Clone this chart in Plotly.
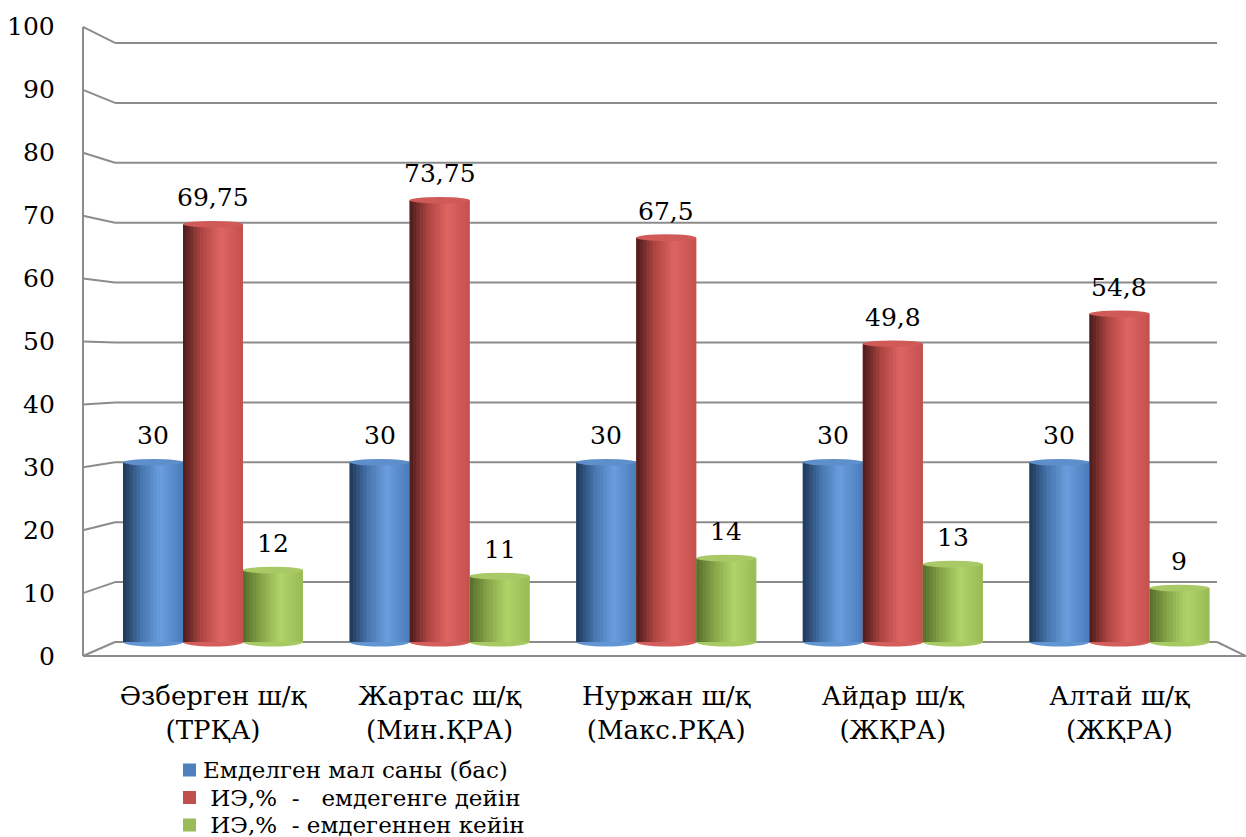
import plotly.graph_objects as go

# ---- data -------------------------------------------------------------
categories = [
    "Әзберген ш/қ<br>(ТРҚА)",
    "Жартас ш/қ<br>(Мин.ҚРА)",
    "Нуржан ш/қ<br>(Макс.РҚА)",
    "Айдар ш/қ<br>(ЖҚРА)",
    "Алтай ш/қ<br>(ЖҚРА)",
]
series_names = [
    "Емделген мал саны (бас)",
    "\u00a0ИЭ,%\u00a0\u00a0-\u00a0\u00a0 емдегенге дейін",
    "\u00a0ИЭ,%\u00a0\u00a0- емдегеннен кейін",
]
treated_count = [30, 30, 30, 30, 30]
before_treatment = [69.75, 73.75, 67.5, 49.8, 54.8]
after_treatment = [12, 11, 14, 13, 9]
y_ticks = list(range(0, 101, 10))

series_values = [treated_count, before_treatment, after_treatment]

# ---- styling ----------------------------------------------------------
FONT = "DejaVu Serif"
GRID = "#8c8c8c"
# colour stops across each cylinder (left edge -> right edge)
palettes = [
    dict(mid="#4F81BD", cap="#5E8FCB",
         stops=[(0.0, "#1E3756"), (0.3, "#4674AD"), (0.62, "#6A9EDE"), (1.0, "#4A7CB9")]),
    dict(mid="#C0504D", cap="#CF5A57",
         stops=[(0.0, "#4A1B1B"), (0.3, "#AD4441"), (0.62, "#DE6562"), (1.0, "#C4514E")]),
    dict(mid="#9BBB59", cap="#A9C966",
         stops=[(0.0, "#566D2B"), (0.3, "#86A548"), (0.62, "#B0D469"), (1.0, "#99BA56")]),
]

BAR_W = 0.2648          # width of one cylinder in category units
N_STRIPS = 18
X_RANGE = [-0.5737, 4.5587]
Y_RANGE = [-4.67, 104.67]

W, H = 1246, 837
PX_L, PX_R = 83, 1246   # plot area, horizontal pixels
PX_T, PX_B = 15, 670    # plot area, vertical pixels


def hex_to_rgb(h):
    h = h.lstrip("#")
    return tuple(int(h[i:i + 2], 16) for i in (0, 2, 4))


def shade(stops, t):
    for (t0, c0), (t1, c1) in zip(stops, stops[1:]):
        if t0 <= t <= t1:
            f = (t - t0) / (t1 - t0)
            a, b = hex_to_rgb(c0), hex_to_rgb(c1)
            r, g, bl = (round(a[k] + (b[k] - a[k]) * f) for k in range(3))
            return f"rgb({r},{g},{bl})"
    return stops[-1][1]


def fmt(v):
    return f"{v:g}".replace(".", ",")


def front(v):
    # value on the front edge of the 3-D frame, expressed on the back-wall scale
    return -2.337 + 1.0501 * v


def pfrac(px):
    return (px - PX_L) / (PX_R - PX_L)


def pyfrac(py):
    return (PX_B - py) / (PX_B - PX_T)


x_idx = list(range(len(categories)))
fig = go.Figure()
shapes = []
annotations = []

for k, (name, vals, pal) in enumerate(zip(series_names, series_values, palettes)):
    left = (k - 1.5) * BAR_W
    fig.add_trace(go.Bar(
        x=x_idx, y=vals, name=name, offset=left, width=BAR_W,
        marker=dict(color=pal["mid"], line=dict(width=0)),
        showlegend=False, hoverinfo="skip",
    ))
    # vertical strips giving the cylindrical shading
    sw = BAR_W / N_STRIPS
    for j in range(N_STRIPS):
        t = (j + 0.5) / N_STRIPS
        fig.add_trace(go.Bar(
            x=x_idx, y=vals, offset=left + j * sw,
            width=sw * (1.25 if j < N_STRIPS - 1 else 1.0),
            marker=dict(color=shade(pal["stops"], t), line=dict(width=0)),
            showlegend=False, hoverinfo="skip",
        ))
    for i, v in zip(x_idx, vals):
        x0 = i + left
        x1 = x0 + BAR_W
        # bottom and top caps of the cylinder
        shapes.append(dict(type="circle", xref="x", yref="y", x0=x0, x1=x1,
                           y0=-0.75, y1=0.75, fillcolor=shade(pal["stops"], 0.55),
                           line=dict(width=0), layer="below"))
        shapes.append(dict(type="circle", xref="x", yref="y", x0=x0, x1=x1,
                           y0=v - 0.55, y1=v + 0.55, fillcolor=pal["cap"],
                           line=dict(width=0), layer="above"))
        annotations.append(dict(x=i + left + BAR_W / 2, y=v, xref="x", yref="y",
                                text=fmt(v), showarrow=False, yanchor="bottom",
                                yshift=10, font=dict(family=FONT, size=25, color="black")))

    # legend row: coloured square + label
    row_y = 770 + 27.5 * k
    shapes.append(dict(type="rect", xref="paper", yref="paper",
                       x0=pfrac(183), x1=pfrac(196),
                       y0=pyfrac(row_y + 6.5), y1=pyfrac(row_y - 6.5),
                       fillcolor=pal["mid"], line=dict(width=0)))
    annotations.append(dict(x=pfrac(201), y=pyfrac(row_y), xref="paper", yref="paper",
                            text=name, showarrow=False, xanchor="left", yanchor="middle",
                            font=dict(family=FONT, size=23, color="black")))

# ---- 3-D frame: back-wall gridlines, side connectors, floor --------------
back_l, back_r = pfrac(115), pfrac(1217)
for v in y_ticks:
    shapes.append(dict(type="line", xref="paper", yref="y", x0=back_l, x1=back_r,
                       y0=v, y1=v, line=dict(color=GRID, width=2), layer="below"))
    shapes.append(dict(type="line", xref="paper", yref="y", x0=0, x1=back_l,
                       y0=front(v), y1=v, line=dict(color=GRID, width=2), layer="below"))
    annotations.append(dict(x=0, y=front(v), xref="paper", yref="y", text=str(v),
                            showarrow=False, xanchor="right", yanchor="middle",
                            xshift=-26, font=dict(family=FONT, size=25, color="black")))
# front vertical axis
shapes.append(dict(type="line", xref="paper", yref="y", x0=0, x1=0,
                   y0=front(0), y1=front(100), line=dict(color=GRID, width=2), layer="below"))
# floor front edge and right-hand connector
shapes.append(dict(type="line", xref="paper", yref="y", x0=0, x1=1,
                   y0=front(0), y1=front(0), line=dict(color=GRID, width=2), layer="below"))
shapes.append(dict(type="line", xref="paper", yref="y", x0=back_r, x1=1,
                   y0=0, y1=front(0), line=dict(color=GRID, width=2), layer="below"))

fig.update_layout(
    width=W, height=H,
    margin=dict(l=PX_L, r=W - PX_R, t=PX_T, b=H - PX_B, autoexpand=False),
    paper_bgcolor="white", plot_bgcolor="white",
    barmode="overlay",
    shapes=shapes,
    annotations=annotations,
    font=dict(family=FONT, color="black"),
    xaxis=dict(range=X_RANGE, tickmode="array", tickvals=x_idx, ticktext=categories,
               showgrid=False, zeroline=False, showline=False, ticks="",
               automargin=False, ticklabelstandoff=8,
               tickfont=dict(family=FONT, size=26, color="black"), fixedrange=True),
    yaxis=dict(range=Y_RANGE, showgrid=False, zeroline=False, showline=False,
               showticklabels=False, ticks="", automargin=False, fixedrange=True),
    showlegend=False,
)

fig.write_html("out.html")
